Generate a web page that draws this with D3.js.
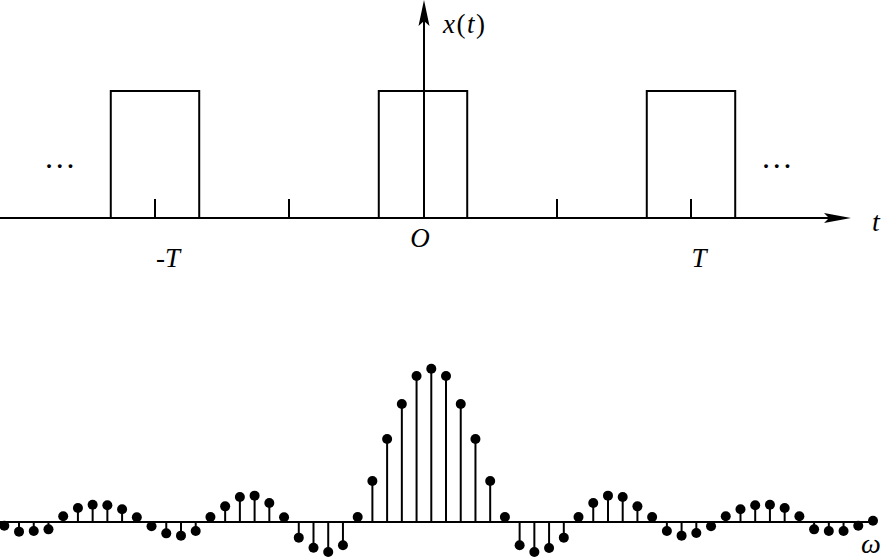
<!DOCTYPE html>
<html>
<head>
<meta charset="utf-8">
<script src="https://cdn.jsdelivr.net/npm/d3@7"></script>
<style>
  body { margin: 0; background: #fff; }
  text { font-family: "Liberation Serif", "DejaVu Serif", serif; fill: #000; }
</style>
</head>
<body>
<svg width="884" height="558"></svg>
<script>
// top: periodic rectangular pulse, t measured in periods T
var pulseCenters = [-1, 0, 1]
var pulseHalfWidth = 0.165
var tickPositions = [-1, -0.5, 0.5, 1]
var tickLabels = [{t: -1, text: "-T"}, {t: 0, text: "O"}, {t: 1, text: "T"}]

// bottom: line spectrum, harmonic index -29..30, amplitude relative to peak
var harmonics = d3.range(-29, 31)
var amplitudes = [
  -0.024, -0.063, -0.059, -0.048, 0.037, 0.091, 0.113, 0.109, 0.083, 0.031,
  -0.028, -0.074, -0.089, -0.059, 0.033, 0.102, 0.163, 0.172, 0.124, 0.031,
  -0.102, -0.168, -0.196, -0.152, 0.033, 0.267, 0.541, 0.770, 0.952, 1.000,
  0.952, 0.770, 0.541, 0.267, 0.033, -0.152, -0.196, -0.170, -0.102, 0.033,
  0.124, 0.172, 0.163, 0.102, 0.033, -0.059, -0.089, -0.072, -0.028, 0.037,
  0.083, 0.109, 0.113, 0.091, 0.037, -0.048, -0.059, -0.059, -0.024, 0.008
]

var svg = d3.select("svg")

// ---------- top plot ----------
var xT = d3.scaleLinear().domain([0, 1]).range([423, 691])
var yT = d3.scaleLinear().domain([0, 1]).range([218, 91])
var topG = svg.append("g").attr("id", "signal")

// pulses
topG.selectAll("path.pulse")
  .data(pulseCenters)
  .enter()
  .append("path")
  .attr("class", "pulse")
  .attr("fill", "none")
  .attr("stroke", "#000")
  .attr("stroke-width", 2)
  .attr("d", function(c){
      var a = xT(c - pulseHalfWidth), b = xT(c + pulseHalfWidth)
      return "M"+a+","+yT(0)+"V"+yT(1)+"H"+b+"V"+yT(0)
  })

// ticks
topG.selectAll("line.tick")
  .data(tickPositions)
  .enter()
  .append("line")
  .attr("stroke", "#000")
  .attr("stroke-width", 2)
  .attr("x1", function(t){return xT(t)})
  .attr("x2", function(t){return xT(t)})
  .attr("y1", yT(0))
  .attr("y2", yT(0) - 19)

// horizontal axis + arrow
var axisEnd = 851
topG.append("line")
  .attr("x1", 0).attr("x2", axisEnd - 8)
  .attr("y1", yT(0)).attr("y2", yT(0))
  .attr("stroke", "#000").attr("stroke-width", 2)
topG.append("path")
  .attr("d", "M"+axisEnd+","+yT(0)+"L"+(axisEnd-27)+","+(yT(0)-5)+"L"+(axisEnd-22)+","+yT(0)+"L"+(axisEnd-27)+","+(yT(0)+5)+"Z")
  .attr("fill", "#000")

// vertical axis + arrow
var yAxisX = 424
topG.append("line")
  .attr("x1", yAxisX).attr("x2", yAxisX)
  .attr("y1", yT(0)).attr("y2", 8)
  .attr("stroke", "#000").attr("stroke-width", 2)
topG.append("path")
  .attr("d", "M"+yAxisX+",0L"+(yAxisX-5.5)+",26L"+yAxisX+",21L"+(yAxisX+5.5)+",26Z")
  .attr("fill", "#000")

// labels
topG.selectAll("text.tl")
  .data(tickLabels)
  .enter()
  .append("text")
  .attr("class", "tl")
  .attr("x", function(d){return d.t === 0 ? xT(d.t) - 3 : xT(d.t) + (d.t < 0 ? 13 : 8)})
  .attr("y", function(d){return d.t === 0 ? 247 : 267})
  .attr("text-anchor", "middle")
  .attr("font-size", 27)
  .attr("font-style", "italic")
  .text(function(d){return d.text})

topG.append("text")
  .attr("x", 872).attr("y", 231)
  .attr("font-size", 28).attr("font-style", "italic")
  .text("t")

var xl = topG.append("text").attr("x", 443).attr("y", 33)
  .attr("font-size", 27).attr("letter-spacing", 1.5)
xl.append("tspan").attr("font-style", "italic").text("x")
xl.append("tspan").text("(")
xl.append("tspan").attr("font-style", "italic").text("t")
xl.append("tspan").text(")")

topG.selectAll("text.dots")
  .data([-1.355, 1.32])
  .enter()
  .append("text")
  .attr("class", "dots")
  .attr("x", function(t){return xT(t)})
  .attr("y", 168)
  .attr("text-anchor", "middle")
  .attr("font-size", 32)
  .text("\u2026")

// ---------- bottom plot ----------
var xS = d3.scaleLinear().domain([-29, 30]).range([4.3, 873])
var yS = d3.scaleLinear().domain([0, 1]).range([522, 368.7])
var bottom = svg.append("g").attr("id", "spectrum")

bottom.append("line")
  .attr("x1", 0).attr("x2", xS(30))
  .attr("y1", yS(0)).attr("y2", yS(0))
  .attr("stroke", "#000").attr("stroke-width", 2)

var pts = harmonics.map(function(k, i){ return {k: k, a: amplitudes[i]} })

bottom.selectAll("line.stem")
  .data(pts)
  .enter()
  .append("line")
  .attr("class", "stem")
  .attr("stroke", "#000")
  .attr("stroke-width", 2)
  .attr("x1", function(d){return xS(d.k)})
  .attr("x2", function(d){return xS(d.k)})
  .attr("y1", yS(0))
  .attr("y2", function(d){return yS(d.a)})

bottom.selectAll("circle")
  .data(pts)
  .enter()
  .append("circle")
  .attr("cx", function(d){return xS(d.k)})
  .attr("cy", function(d){return yS(d.a)})
  .attr("r", 5)
  .attr("fill", "#000")

bottom.append("text")
  .attr("x", 861).attr("y", 553)
  .attr("font-size", 28).attr("font-style", "italic")
  .text("\u03c9")
</script>
</body>
</html>
